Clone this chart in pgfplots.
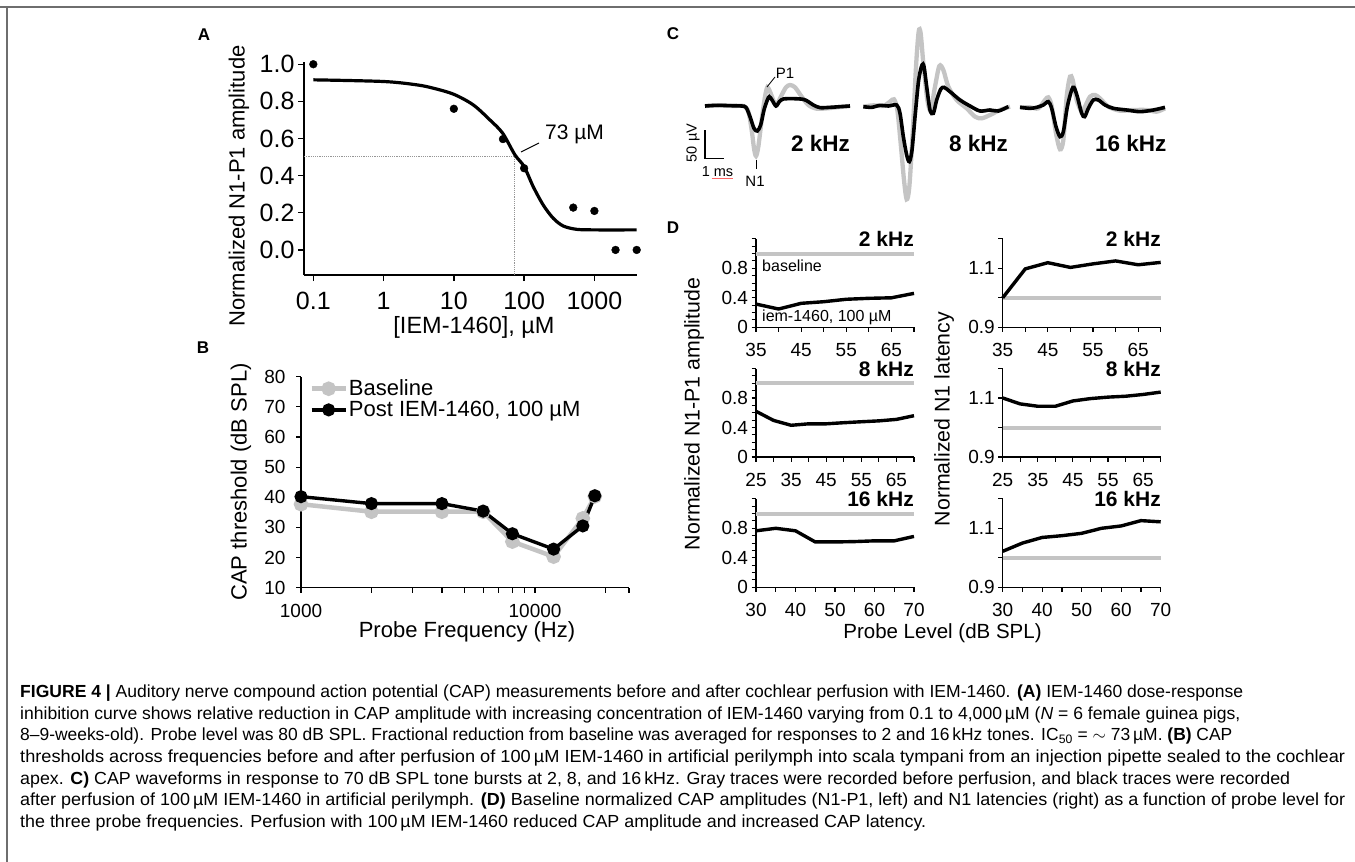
\documentclass[border=0pt]{standalone}
\usepackage{graphicx}
\usepackage{pgfplots}
\pgfplotsset{compat=1.18}
\usepackage{fontspec}
\setmainfont{Liberation Sans}
\newfontfamily\capfont{Liberation Sans}

\definecolor{lgray}{RGB}{196,196,196}
\definecolor{dgray}{RGB}{150,150,150}
\definecolor{framegray}{RGB}{110,110,110}
\newcommand{\fs}[1]{\fontsize{#1}{#1}\selectfont}
% one caption line, stretched to the width it has in the reference
\newcommand{\capline}[3]{\node at (20pt,-#1pt) {\resizebox{#2pt}{\height}{#3}};}

\pgfplotsset{
  panel/.style={
    scale only axis, anchor=south west, clip=false,
    axis lines=left, axis line style={-, line width=1.4pt, black},
    every tick/.style={black, line width=1.2pt},
    tick align=outside, major tick length=5pt, minor tick length=5pt,
    tick label style={font=\fs{19}},
    xticklabel style={yshift=-8pt},
    /pgf/number format/assume math mode=true,
  },
  dpanel/.style={panel, width=158pt, height=88.5pt,
    axis line style={-, line width=1.2pt, black},
    every tick/.style={black, line width=1.1pt},
    major tick length=4.5pt, minor tick length=4.5pt},
  amp/.style={ymin=0, ymax=1.2, ytick={0,0.4,0.8}, yticklabels={0,0.4,0.8},
    minor ytick={0.1,0.2,0.3,0.5,0.6,0.7,0.9,1.0,1.1,1.2}},
  lat/.style={ymin=0.9, ymax=1.2, ytick={0.9,1.1}, yticklabels={0.9,1.1},
    minor ytick={1.0,1.2}},
  xa/.style={xmin=35, xmax=70, xtick={35,45,55,65}, xticklabels={35,45,55,65}, minor xtick={40,50,60,70}},
  xb/.style={xmin=25, xmax=70, xtick={25,35,45,55,65}, xticklabels={25,35,45,55,65}, minor xtick={30,40,50,60,70}},
  xc/.style={xmin=30, xmax=70, xtick={30,40,50,60,70}, xticklabels={30,40,50,60,70}, minor xtick={35,45,55,65}},
  base/.style={color=lgray, line width=4pt},
  post/.style={color=black, line width=3.4pt},
}

\begin{document}
\begin{tikzpicture}
\path[use as bounding box] (0pt,0pt) rectangle (1355pt,-862pt);
\draw[framegray, line width=1.5pt] (0pt,-7pt) -- (1355pt,-7pt);
\draw[framegray, line width=1.5pt] (7pt,-7pt) -- (7pt,-862pt);

% panel letters
\node[font=\bfseries\fs{17}] at (204pt,-35pt) {A};
\node[font=\bfseries\fs{17}] at (203pt,-348pt) {B};
\node[font=\bfseries\fs{17}] at (673pt,-34pt) {C};
\node[font=\bfseries\fs{17}] at (673pt,-228pt) {D};

% ---------- A: dose response
\begin{axis}[panel, at={(304pt,-275pt)}, width=332.7pt, height=213pt,
  xmode=log, xmin=0.0737, xmax=4000, ymin=-0.135, ymax=1.012,
  xtick={0.1,1,10,100,1000}, xticklabels={0.1,1,10,100,1000}, xminorticks=false,
  ytick={0,0.2,0.4,0.6,0.8,1}, yticklabels={0.0,0.2,0.4,0.6,0.8,1.0},
  tick label style={font=\fs{25}}, major tick length=6pt,
  axis line style={-, line width=1.6pt, black}, every tick/.style={black, line width=1.4pt}]
\addplot[dgray, densely dotted, line width=1.2pt] coordinates {(0.0737,0.505) (73,0.505) (73,-0.135)};
\addplot[black, line width=3.2pt, smooth] coordinates {
  (0.1,0.916) (1,0.907) (2.96,0.889) (5.1,0.871) (10,0.838) (18.9,0.781) (32.6,0.70)
  (49.4,0.629) (74,0.512) (100,0.449) (134.6,0.341) (187,0.242) (259,0.171) (360,0.129)
  (558,0.111) (1000,0.108) (4000,0.108)};
\addplot[only marks, mark=*, mark size=3.9pt, black] coordinates {
  (0.1,1.0) (10,0.76) (50,0.597) (100,0.44) (500,0.228) (1000,0.21) (2000,0) (4000,0)};
\end{axis}
\draw[black, line width=1pt] (521pt,-152pt) -- (539pt,-143pt);
\node[anchor=base west, inner sep=0pt, font=\fs{21}] at (545pt,-139.5pt) {73 µM};
\node[rotate=90, font=\fs{22}] at (239pt,-186pt) {Normalized N1-P1 amplitude};
\node[anchor=base, font=\fs{23.5}] at (474pt,-333pt) {[IEM-1460], µM};

% ---------- B: thresholds
\begin{axis}[panel, at={(301pt,-587.7pt)}, width=328pt, height=211pt,
  xmode=log, xmin=1000, xmax=25200, ymin=10, ymax=80,
  xtick={1000,10000}, xticklabels={1000,10000},
  minor xtick={2000,3000,4000,5000,6000,7000,8000,9000,20000,25200},
  ytick={10,20,30,40,50,60,70,80}, yticklabels={10,20,30,40,50,60,70,80},
  yticklabel style={xshift=-7pt},
  axis line style={-, line width=1.5pt, black},
  legend cell align=left,
  legend image code/.code={\draw[mark repeat=2, mark phase=2, #1] plot coordinates {(0pt,0pt) (17pt,0pt) (34pt,0pt)};},
  legend style={draw=none, fill=none, at={(axis description cs:0.025,0.99)}, anchor=north west,
    inner sep=0pt, row sep=2pt, font=\fs{22}, nodes={inner sep=1pt}}]
\addplot[lgray, line width=4.5pt, mark=*, mark size=5pt] coordinates {
  (1000,37.7) (2000,35.2) (4000,35.2) (6000,35.2) (8000,25.3) (12000,20.3) (16000,33) (18000,40.3)};
\addlegendentry{Baseline}
\addplot[black, line width=3.4pt, mark=*, mark size=4.8pt] coordinates {
  (1000,40.2) (2000,37.9) (4000,37.9) (6000,35.4) (8000,27.9) (12000,22.8) (16000,30.5) (18000,40.5)};
\addlegendentry{Post IEM-1460, 100 µM}
\end{axis}
\node[rotate=90, font=\fs{22}] at (241pt,-482pt) {CAP threshold (dB SPL)};
\node[font=\fs{22}] at (467pt,-632pt) {Probe Frequency (Hz)};

% ---------- C: waveforms (coordinates in drawing units)
\begin{axis}[at={(690pt,-210pt)}, anchor=south west, scale only axis, width=480pt, height=190pt,
  xmin=30, xmax=1470, ymin=-630, ymax=-60, hide axis, clip=false]
\addplot[lgray, line width=4.3pt, smooth, tension=0.5] coordinates {
  (75,-318) (120,-316) (160,-318) (190,-318) (205,-335) (215,-390) (222,-445) (228,-468)
  (235,-440) (245,-360) (255,-290) (262,-262) (270,-275) (282,-305) (292,-310) (305,-285)
  (318,-262) (330,-255) (345,-262) (365,-290) (385,-315) (410,-326) (440,-325) (470,-322) (510,-318)};
\addplot[black, line width=3.6pt, smooth, tension=0.5] coordinates {
  (75,-318) (110,-316) (150,-317) (185,-318) (198,-322) (210,-350) (222,-385) (232,-393)
  (242,-375) (252,-330) (262,-300) (268,-290) (276,-300) (288,-318) (298,-305) (310,-297)
  (340,-296) (370,-298) (385,-305) (400,-315) (420,-323) (450,-322) (480,-320) (510,-318)};
\addplot[lgray, line width=4.3pt, smooth, tension=0.5] coordinates {
  (550,-320) (580,-316) (610,-318) (630,-305) (642,-298) (652,-330) (662,-430) (672,-540)
  (680,-598) (688,-560) (698,-400) (708,-200) (716,-95) (722,-100) (730,-190) (742,-300)
  (752,-330) (765,-260) (778,-198) (790,-210) (805,-260) (830,-300) (860,-325) (885,-350)
  (905,-355) (930,-345) (960,-330) (990,-320)};
\addplot[black, line width=3.6pt, smooth, tension=0.5] coordinates {
  (550,-320) (575,-322) (600,-316) (625,-318) (650,-315) (660,-340) (670,-410) (680,-465)
  (688,-485) (696,-450) (706,-340) (716,-240) (726,-195) (732,-200) (740,-260) (750,-330)
  (760,-340) (770,-300) (782,-268) (792,-262) (810,-275) (840,-300) (870,-318) (900,-333)
  (930,-330) (955,-333) (985,-320)};
\addplot[lgray, line width=4.3pt, smooth, tension=0.5] coordinates {
  (1020,-322) (1050,-322) (1075,-325) (1095,-300) (1105,-292) (1115,-318) (1128,-400)
  (1140,-448) (1150,-420) (1160,-290) (1170,-230) (1178,-240) (1190,-300) (1205,-335)
  (1215,-320) (1230,-290) (1245,-285) (1260,-295) (1285,-320) (1320,-332) (1360,-330)
  (1400,-330) (1430,-335) (1455,-325)};
\addplot[black, line width=3.6pt, smooth, tension=0.5] coordinates {
  (1020,-322) (1050,-325) (1070,-322) (1090,-315) (1105,-305) (1115,-325) (1128,-380)
  (1140,-410) (1150,-395) (1162,-320) (1175,-270) (1182,-262) (1192,-290) (1205,-340)
  (1214,-350) (1225,-325) (1240,-300) (1255,-300) (1275,-315) (1300,-325) (1340,-330)
  (1380,-335) (1420,-330) (1455,-322)};
\end{axis}
\draw[black, line width=1.6pt] (705pt,-130pt) -- (705pt,-158.3pt) -- (724pt,-158.3pt);
\node[rotate=90, font=\fs{14.5}] at (693pt,-143pt) {50 µV};
\node[font=\fs{14.5}] at (717.5pt,-172pt) {1 ms};
\draw[red!60, line width=0.6pt] (711.7pt,-178pt) -- (733pt,-178pt);
\draw[black, line width=0.8pt] (767pt,-87pt) -- (775pt,-77pt);
\node[font=\fs{15}] at (785pt,-73pt) {P1};
\draw[black, line width=0.8pt] (756pt,-160pt) -- (756pt,-169pt);
\node[font=\fs{15}] at (755pt,-181pt) {N1};
\node[anchor=base east, inner sep=0pt, font=\bfseries\fs{22.5}] at (850pt,-151.7pt) {2 kHz};
\node[anchor=base east, inner sep=0pt, font=\bfseries\fs{22.5}] at (1008pt,-151.7pt) {8 kHz};
\node[anchor=base east, inner sep=0pt, font=\bfseries\fs{22.5}] at (1166.7pt,-151.7pt) {16 kHz};

% ---------- D: amplitudes (left) and latencies (right)
\begin{axis}[dpanel, amp, xa, at={(756pt,-327.3pt)}]
\addplot[base] coordinates {(35,1) (70,1)};
\addplot[post] coordinates {(35,0.315) (40,0.248) (45,0.325) (50,0.347) (55,0.38) (60,0.393) (65,0.40) (70,0.46)};
\end{axis}
\begin{axis}[dpanel, amp, xb, at={(756pt,-457pt)}]
\addplot[base] coordinates {(25,1) (70,1)};
\addplot[post] coordinates {(25,0.62) (30,0.496) (35,0.43) (40,0.45) (45,0.45) (50,0.465) (55,0.478) (60,0.49) (65,0.51) (70,0.56)};
\end{axis}
\begin{axis}[dpanel, amp, xc, at={(756pt,-587.3pt)}]
\addplot[base] coordinates {(30,1) (70,1)};
\addplot[post] coordinates {(30,0.766) (35,0.80) (40,0.766) (45,0.615) (50,0.615) (55,0.62) (60,0.63) (65,0.63) (70,0.69)};
\end{axis}
\begin{axis}[dpanel, lat, xa, at={(1002.7pt,-327.3pt)}]
\addplot[base] coordinates {(35,1) (70,1)};
\addplot[post] coordinates {(35,1.0) (40,1.098) (45,1.119) (50,1.103) (55,1.115) (60,1.125) (65,1.112) (70,1.12)};
\end{axis}
\begin{axis}[dpanel, lat, xb, at={(1002.7pt,-457pt)}]
\addplot[base] coordinates {(25,1) (70,1)};
\addplot[post] coordinates {(25,1.10) (30,1.08) (35,1.072) (40,1.072) (45,1.09) (50,1.098) (55,1.103) (60,1.106) (65,1.112) (70,1.12)};
\end{axis}
\begin{axis}[dpanel, lat, xc, at={(1002.7pt,-587.3pt)}]
\addplot[base] coordinates {(30,1) (70,1)};
\addplot[post] coordinates {(30,1.022) (35,1.05) (40,1.069) (45,1.075) (50,1.083) (55,1.10) (60,1.108) (65,1.126) (70,1.122)};
\end{axis}
\foreach \yb/\t in {246.7/2, 376.7/8, 506.7/16} {
  \node[anchor=base east, inner sep=0pt, font=\bfseries\fs{21}] at (914pt,-\yb pt) {\t\ kHz};
  \node[anchor=base east, inner sep=0pt, font=\bfseries\fs{21}] at (1161pt,-\yb pt) {\t\ kHz};
}
\node[anchor=base west, inner sep=0pt, font=\fs{16}] at (762pt,-271pt) {baseline};
\node[anchor=base west, inner sep=0pt, font=\fs{16}] at (762pt,-321.7pt) {iem-1460, 100 µM};
\node[rotate=90, font=\fs{21.3}] at (694pt,-414pt) {Normalized N1-P1 amplitude};
\node[rotate=90, font=\fs{21.3}] at (944pt,-419pt) {Normalized N1 latency};
\node[font=\fs{20.5}] at (942.5pt,-633pt) {Probe Level (dB SPL)};

% ---------- caption
\begin{scope}[every node/.style={anchor=base west, inner sep=0pt, font=\capfont\fs{17.5}}]
\capline{697.7}{1223}{\textbf{FIGURE 4 |} Auditory nerve compound action potential (CAP) measurements before and after cochlear perfusion with IEM-1460. \textbf{(A)} IEM-1460 dose-response}
\capline{719.3}{1220}{inhibition curve shows relative reduction in CAP amplitude with increasing concentration of IEM-1460 varying from 0.1 to 4,000\,µM (\textit{N} = 6 female guinea pigs,}
\capline{740.9}{1212}{8\textendash 9-weeks-old). Probe level was 80 dB SPL. Fractional reduction from baseline was averaged for responses to 2 and 16\,kHz tones. IC\textsubscript{50} = $\sim$ 73\,µM. \textbf{(B)} CAP}
\capline{762.5}{1325}{thresholds across frequencies before and after perfusion of 100\,µM IEM-1460 in artificial perilymph into scala tympani from an injection pipette sealed to the cochlear}
\capline{784.1}{1270}{apex. \textbf{C)} CAP waveforms in response to 70 dB SPL tone bursts at 2, 8, and 16\,kHz. Gray traces were recorded before perfusion, and black traces were recorded}
\capline{805.7}{1325}{after perfusion of 100\,µM IEM-1460 in artificial perilymph. \textbf{(D)} Baseline normalized CAP amplitudes (N1-P1, left) and N1 latencies (right) as a function of probe level for}
\capline{827.3}{906}{the three probe frequencies. Perfusion with 100\,µM IEM-1460 reduced CAP amplitude and increased CAP latency.}
\end{scope}
\end{tikzpicture}
\end{document}
